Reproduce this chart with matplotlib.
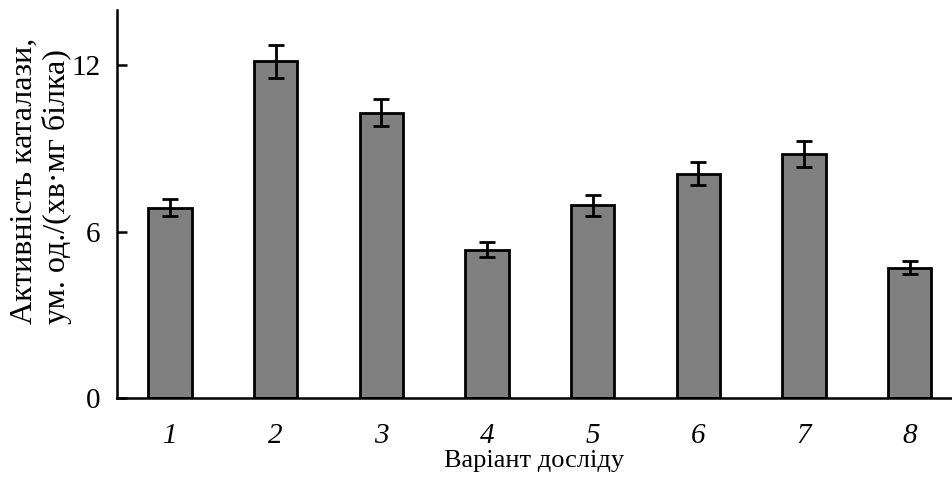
import numpy as np
import matplotlib.pyplot as plt

plt.rcParams['font.family'] = ['Liberation Serif', 'DejaVu Serif']

variants = ['1', '2', '3', '4', '5', '6', '7', '8']
activity = [6.87, 12.15, 10.3, 5.35, 6.95, 8.1, 8.8, 4.7]
error = [0.3, 0.6, 0.5, 0.28, 0.38, 0.43, 0.47, 0.23]

fig = plt.figure(figsize=(9.52, 4.78), dpi=100)
ax = fig.add_axes([117 / 952, 1 - 398 / 478, 1 - 117 / 952, 388 / 478])

x = np.arange(len(variants))
ax.bar(x, activity, width=0.41, color='#808080', edgecolor='black', linewidth=2.0,
       yerr=error, error_kw=dict(ecolor='black', elinewidth=2.0, capsize=6, capthick=2.0))

ax.set_xlim(-0.5, 7.4)
ax.set_ylim(0, 14)
ax.set_yticks([0, 6, 12])
ax.set_xticks(x)
ax.set_xticklabels(variants, fontstyle='italic')
ax.tick_params(axis='y', direction='in', length=7, width=1.8, labelsize=21, pad=12)
ax.tick_params(axis='x', length=0, labelsize=21, pad=18)
for s in ['top', 'right']:
    ax.spines[s].set_visible(False)
for s in ['left', 'bottom']:
    ax.spines[s].set_linewidth(1.8)

ax.set_xlabel('Варіант досліду', fontsize=19, labelpad=1)
fig.text(41 / 952, 1 - 181 / 478, 'Активність каталази,\nум. од./(хв·мг білка)',
         rotation=90, ha='center', va='center', multialignment='left', fontsize=23,
         linespacing=1.15)

fig.savefig('out.png', dpi=100)
